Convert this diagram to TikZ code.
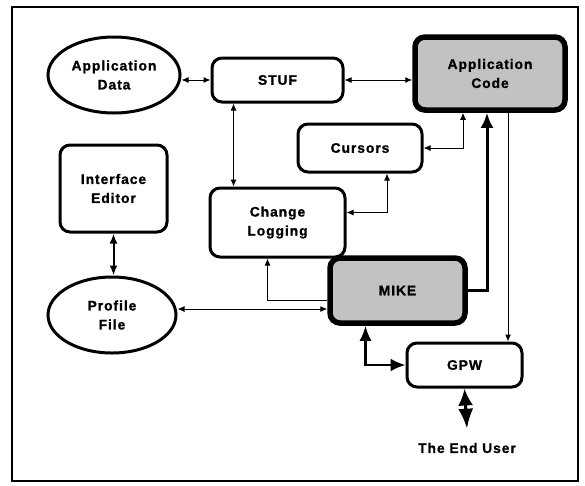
\documentclass[tikz,border=0pt]{standalone}
\usepackage{fontspec}
\setmainfont{Liberation Sans}[LetterSpace=7,BoldFeatures={FakeBold=1.2}]
\usetikzlibrary{arrows.meta,shapes.geometric}
\begin{document}
\begin{tikzpicture}[x=1pt,y=-1pt,
  lbl/.style={font=\fontsize{13.8}{19}\selectfont\bfseries, align=center},
  rbox/.style={lbl, draw, line width=3pt, rounded corners=10pt, inner sep=0pt},
  hbox/.style={rbox, line width=5.5pt, fill=black!24},
  ell/.style={lbl, draw, line width=3pt, ellipse, inner sep=0pt},
  thin/.style={line width=1pt, {Latex[length=7pt,width=6pt]}-{Latex[length=7pt,width=6pt]}},
  thino/.style={line width=1pt, -{Latex[length=7pt,width=6pt]}},
  medd/.style={line width=2pt, {Latex[length=10pt,width=8pt]}-{Latex[length=10pt,width=8pt]}},
  bigd/.style={line width=2.4pt, {Latex[length=15pt,width=12pt]}-{Latex[length=15pt,width=13pt]}},
  hugd/.style={line width=3pt, {Latex[length=17pt,width=15pt]}-{Latex[length=20pt,width=15pt]}},
  bigo/.style={line width=3pt, -{Latex[length=15pt,width=13pt]}}
]
\useasboundingbox (0,0) rectangle (585,485);
\draw[line width=2pt] (12,7) rectangle (578,481);

\node[ell, minimum width=132pt, minimum height=76pt] (ad) at (114,75) {Application\\Data};
\node[rbox, minimum width=131pt, minimum height=44pt] (stuf) at (277.5,80) {STUF};
\node[hbox, minimum width=150pt, minimum height=73pt] (ac) at (490,73.5) {Application\\Code};
\node[rbox, minimum width=124pt, minimum height=48pt] (cur) at (360,148) {Cursors};
\node[rbox, minimum width=107pt, minimum height=87pt] (ie) at (113.5,188.5) {Interface\\Editor};
\node[rbox, minimum width=135pt, minimum height=69pt] (cl) at (277.5,222.5) {Change\\Logging};
\node[ell, minimum width=128pt, minimum height=76pt] (pf) at (112,315) {Profile\\File};
\node[hbox, minimum width=135pt, minimum height=65pt] (mike) at (397.5,290.5) {MIKE};
\node[rbox, minimum width=115pt, minimum height=44pt] (gpw) at (464.5,365) {GPW};
\node[lbl, inner sep=0pt] (user) at (467,448) {The End User};

\draw[thin] (ad.east |- stuf.west) -- (stuf.west);
\draw[thin] (stuf.east) -- (stuf.east -| ac.west);
\draw[thin] ([xshift=23pt]stuf.south west) -- ([xshift=23pt]stuf.south west |- cl.north);
\draw[thin] (cur.east) -| ([xshift=-27pt]ac.south);
\draw[thin] ([yshift=10pt]cl.east) -| ([xshift=27pt]cur.south);
\draw[medd] (ie.south) -- (ie.south |- pf.north);
\draw[bigo] (mike.east) -| ([xshift=-3pt]ac.south);
\coordinate (acg) at ([xshift=18pt]ac.south);
\draw[thino] (acg) -- (acg |- gpw.north);
\coordinate (m1) at ([yshift=-18.5pt]mike.west);
\draw[thin] (m1 -| pf.east) -- (m1);
\draw[thino] ([yshift=-10pt]mike.west) -| ([xshift=-10pt]cl.south);
\draw[bigd] ([xshift=-32pt]mike.south) |- (gpw.west);
\draw[hugd] (gpw.south) -- ([yshift=14pt]user.north);
\end{tikzpicture}
\end{document}
